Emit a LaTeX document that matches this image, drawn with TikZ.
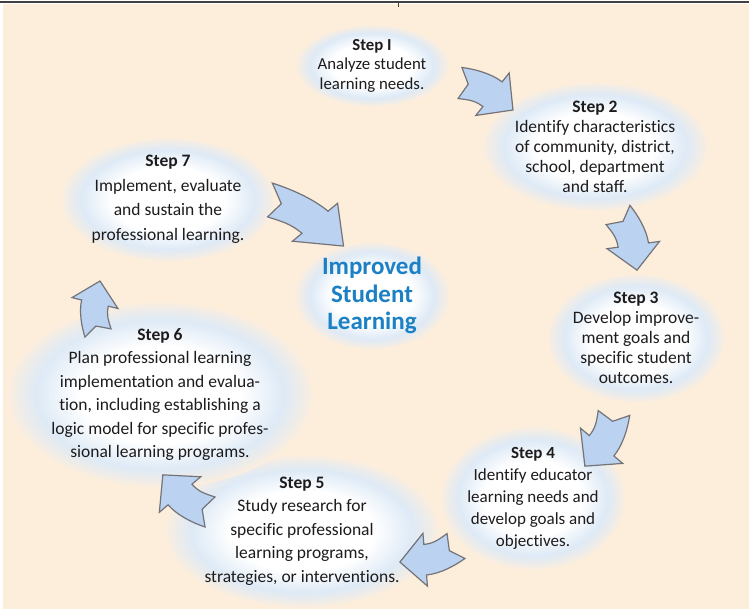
\documentclass[tikz,border=0pt]{standalone}
\usepackage{fontspec}
\setmainfont[Ligatures=NoCommon]{Carlito}
\usetikzlibrary{shapes.geometric}
\definecolor{bg}{RGB}{253,238,220}
\definecolor{glowblue}{RGB}{222,234,246}
\definecolor{glowmid}{RGB}{238,236,233}
\definecolor{arrfill}{RGB}{187,211,240}
\definecolor{arrline}{RGB}{115,115,120}
\definecolor{txt}{RGB}{30,27,28}
\definecolor{ctr}{RGB}{28,128,196}
\pgfdeclareradialshading{glow}{\pgfpoint{0bp}{0bp}}{color(0bp)=(white); color(13bp)=(white); color(20bp)=(glowblue); color(23bp)=(glowmid); color(25bp)=(bg); color(50bp)=(bg)}
\tikzset{
  stepell/.style={ellipse, shading=glow, inner sep=0pt, align=center, text=txt},
  fa/.style={font=\fontsize{17.5}{20}\selectfont},
  pics/barrow/.style={code={
    \filldraw[fill=arrfill, draw=arrline, line width=1.2pt, line join=miter]
      (-4,14.5) .. controls (8.6,17.9) and (24.4,19.9) .. (37,16.5)
      -- (40,27) -- (57,-4.5) -- (26,-23) -- (29,-12.5)
      .. controls (19.3,-9.9) and (13.7,-11.9) .. (4,-14.5)
      -- (7.7,2) -- cycle;
  }}
}
\begin{document}
\begin{tikzpicture}[x=1pt,y=1pt]
\useasboundingbox (0,0) rectangle (749,-612);
\fill[bg] (3,-4) rectangle (749,-609);
\draw[line width=1.5pt, black!75] (0,-2) -- (749,-2);
\draw[line width=1pt, black!75] (398,-2) -- (398,-7);

\node[stepell, font=\fontsize{16.8}{19.5}\selectfont, minimum width=150pt, minimum height=82pt] (s1) at (372,-65.5)
  {\textbf{Step I}\\Analyze student\\learning needs.};
\node[stepell, fa, minimum width=195pt, minimum height=125pt] (s2) at (595,-146.5)
  {\textbf{Step 2}\\Identify characteristics\\of community, district,\\school, department\\and staff.};
\node[stepell, fa, minimum width=170pt, minimum height=118pt] (s3) at (636,-338)
  {\textbf{Step 3}\\Develop improve-\\ment goals and\\specific student\\outcomes.};
\node[stepell, font=\fontsize{17}{22}\selectfont, minimum width=170pt, minimum height=120pt] (s4) at (533,-498)
  {\textbf{Step 4}\\Identify educator\\learning needs and\\develop goals and\\objectives.};
\node[stepell, font=\fontsize{17.5}{23.5}\selectfont, minimum width=190pt, minimum height=128pt] (s5) at (302,-531)
  {\textbf{Step 5}\\Study research for\\specific professional\\learning programs,\\strategies, or interventions.};
\node[stepell, font=\fontsize{17.5}{23.4}\selectfont, minimum width=270pt, minimum height=155pt] (s6) at (160,-394.5)
  {\textbf{Step 6}\\Plan professional learning\\implementation and evalua-\\tion, including establishing a\\logic model for specific profes-\\sional learning programs.};
\node[stepell, font=\fontsize{17.5}{24.5}\selectfont, minimum width=175pt, minimum height=100pt] (s7) at (168,-199.5)
  {\textbf{Step 7}\\Implement, evaluate\\and sustain the\\professional learning.};
\node[stepell, text=ctr, font=\bfseries\fontsize{25}{27.5}\selectfont, minimum width=155pt, minimum height=105pt] (c) at (372,-295.5)
  {Improved\\Student\\Learning};

\pic[rotate=-22.5, scale=1.04] at (460,-83) {barrow};
\pic[rotate=-66.5, scale=1.02] at (618,-215) {barrow};
\pic[rotate=-114.2, scale=1.06] at (614,-413) {barrow};
\pic[rotate=-159.5, scale=1.02] at (456,-546) {barrow};
\pic[rotate=146.3, scale=1.05] at (210,-512) {barrow};
\pic[rotate=92.3, scale=0.91] at (98,-333) {barrow};
\pic[rotate=-28.8, xscale=1.52, yscale=1.1] at (270,-200) {barrow};
\end{tikzpicture}
\end{document}
